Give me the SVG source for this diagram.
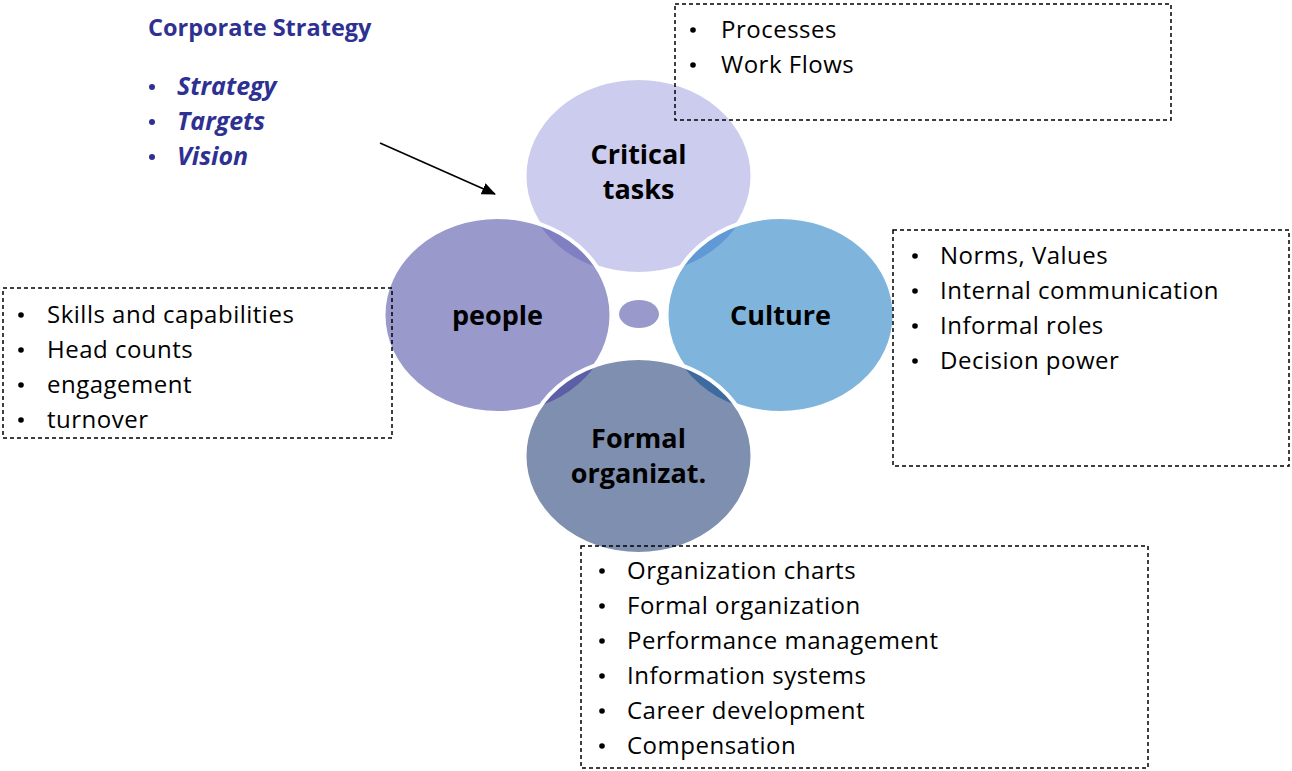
<svg xmlns="http://www.w3.org/2000/svg" width="1292" height="771" viewBox="0 0 1292 771">
<style>
.node-label{font-family:"Open Sans","Liberation Sans",sans-serif;font-weight:bold;font-size:27px;fill:#000;text-anchor:middle}
.item{font-family:"Open Sans","Liberation Sans",sans-serif;font-size:24px;letter-spacing:0.5px;fill:#000}
.head{font-family:"Open Sans","Liberation Sans",sans-serif;font-weight:bold;font-size:23.5px;fill:#2E3192}
.ital{font-family:"Open Sans","Liberation Sans",sans-serif;font-weight:bold;font-style:italic;font-size:25px;fill:#2E3192}
.box{fill:none;stroke:#000;stroke-width:1.5;stroke-dasharray:4 3}
.outline{fill:none;stroke:#fff;stroke-width:4}
.dot{fill:#000}
.bdot{fill:#2E3192}
</style>
<defs>
<clipPath id="clipCult"><ellipse cx="780.5" cy="315" rx="114" ry="98"/></clipPath>
<clipPath id="clipPeop"><ellipse cx="497.5" cy="315" rx="114" ry="98"/></clipPath>
<clipPath id="clipForm"><ellipse cx="638.5" cy="456" rx="114" ry="98"/></clipPath>
<marker id="arrow" markerUnits="userSpaceOnUse" markerWidth="14" markerHeight="12" refX="13" refY="6" orient="auto"><path d="M0,0 L14,6 L0,12 Z" fill="#000"/></marker>
</defs>
<rect width="1292" height="771" fill="#fff"/>

<g id="node-critical">
<ellipse cx="638.5" cy="176" rx="114" ry="98" fill="#CCCCEE" stroke="#fff" stroke-width="4"/>
<text class="node-label" x="638.5" y="164">Critical</text>
<text class="node-label" x="638.5" y="199">tasks</text>
</g>

<g id="node-culture">
<ellipse cx="780.5" cy="315" rx="114" ry="98" fill="#7FB5DD"/>
<ellipse cx="638.5" cy="176" rx="114" ry="98" fill="#6199D6" clip-path="url(#clipCult)"/>
<ellipse class="outline" cx="780.5" cy="315" rx="114" ry="98"/>
<text class="node-label" x="780.5" y="325">Culture</text>
</g>

<g id="node-people">
<ellipse cx="497.5" cy="315" rx="114" ry="98" fill="#9999CB"/>
<ellipse cx="638.5" cy="176" rx="114" ry="98" fill="#7F7FC2" clip-path="url(#clipPeop)"/>
<ellipse class="outline" cx="497.5" cy="315" rx="114" ry="98"/>
<text class="node-label" x="497.5" y="325">people</text>
</g>

<g id="node-formal">
<ellipse cx="638.5" cy="456" rx="114" ry="98" fill="#7F8FAF"/>
<ellipse cx="497.5" cy="315" rx="114" ry="98" fill="#5B5FA6" clip-path="url(#clipForm)"/>
<ellipse cx="780.5" cy="315" rx="114" ry="98" fill="#3E6B9F" clip-path="url(#clipForm)"/>
<ellipse class="outline" cx="638.5" cy="456" rx="114" ry="98"/>
<text class="node-label" x="638.5" y="448">Formal</text>
<text class="node-label" x="638.5" y="483">organizat.</text>
</g>

<g id="node-center">
<ellipse cx="639" cy="314" rx="20" ry="14" fill="#9999CB"/>
</g>

<g id="corporate-strategy">
<text class="head" x="148" y="36">Corporate Strategy</text>
<circle class="bdot" cx="152" cy="87" r="3"/>
<text class="ital" x="177" y="95">Strategy</text>
<circle class="bdot" cx="152" cy="122" r="3"/>
<text class="ital" x="177" y="130">Targets</text>
<circle class="bdot" cx="152" cy="157" r="3"/>
<text class="ital" x="177" y="165">Vision</text>
</g>

<g id="box-tasks">
<rect class="box" x="675" y="4" width="496" height="116"/>
<circle class="dot" cx="693" cy="30" r="2.8"/>
<text class="item" x="721" y="38">Processes</text>
<circle class="dot" cx="693" cy="65" r="2.8"/>
<text class="item" x="721" y="73">Work Flows</text>
</g>

<g id="box-culture">
<rect class="box" x="893" y="230" width="396" height="236"/>
<circle class="dot" cx="915" cy="256" r="2.8"/>
<text class="item" x="940" y="264">Norms, Values</text>
<circle class="dot" cx="915" cy="291" r="2.8"/>
<text class="item" x="940" y="299">Internal communication</text>
<circle class="dot" cx="915" cy="326" r="2.8"/>
<text class="item" x="940" y="334">Informal roles</text>
<circle class="dot" cx="915" cy="361" r="2.8"/>
<text class="item" x="940" y="369">Decision power</text>
</g>

<g id="box-people">
<rect class="box" x="3" y="288" width="389" height="150"/>
<circle class="dot" cx="21" cy="315" r="2.8"/>
<text class="item" x="47" y="323">Skills and capabilities</text>
<circle class="dot" cx="21" cy="350" r="2.8"/>
<text class="item" x="47" y="358">Head counts</text>
<circle class="dot" cx="21" cy="385" r="2.8"/>
<text class="item" x="47" y="393">engagement</text>
<circle class="dot" cx="21" cy="420" r="2.8"/>
<text class="item" x="47" y="428">turnover</text>
</g>

<g id="box-formal">
<rect class="box" x="581" y="546" width="567" height="222"/>
<circle class="dot" cx="602" cy="571" r="2.8"/>
<text class="item" x="627" y="579">Organization charts</text>
<circle class="dot" cx="602" cy="606" r="2.8"/>
<text class="item" x="627" y="614">Formal organization</text>
<circle class="dot" cx="602" cy="641" r="2.8"/>
<text class="item" x="627" y="649">Performance management</text>
<circle class="dot" cx="602" cy="676" r="2.8"/>
<text class="item" x="627" y="684">Information systems</text>
<circle class="dot" cx="602" cy="711" r="2.8"/>
<text class="item" x="627" y="719">Career development</text>
<circle class="dot" cx="602" cy="746" r="2.8"/>
<text class="item" x="627" y="754">Compensation</text>
</g>

<g id="connectors">
<line x1="380" y1="143" x2="495" y2="194" stroke="#000" stroke-width="1.6" marker-end="url(#arrow)"/>
</g>
</svg>
